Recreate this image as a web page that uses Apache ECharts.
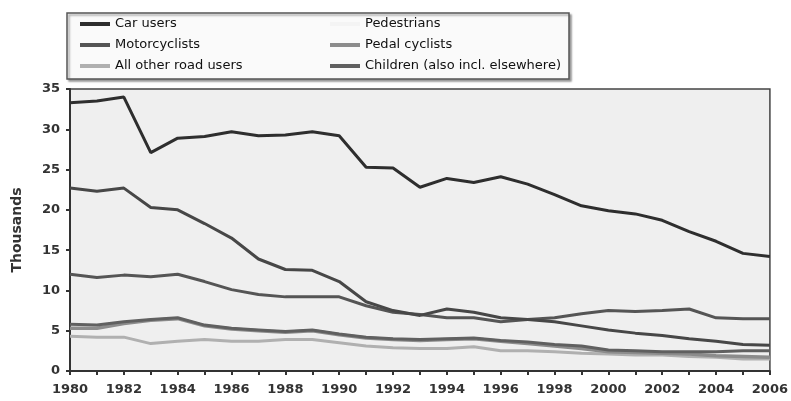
<!DOCTYPE html>
<html>
<head>
<meta charset="utf-8">
<script src="https://cdn.jsdelivr.net/npm/echarts@6/dist/echarts.min.js"></script>
<style>
  html, body { margin: 0; padding: 0; background: #fff; }
  #chart { width: 791px; height: 401px; }
</style>
</head>
<body>
<div id="chart"></div>
<script>
const years = [];
for (let y = 1980; y <= 2006; y++) years.push(String(y));

// thousands of road deaths
const carUsers = [33.3, 33.5, 34.0, 27.1, 28.9, 29.1, 29.7, 29.2, 29.3, 29.7, 29.2, 25.3, 25.2, 22.8, 23.9, 23.4, 24.1, 23.2, 21.9, 20.5, 19.9, 19.5, 18.7, 17.3, 16.1, 14.6, 14.2];
const pedestrians = [22.7, 22.3, 22.7, 20.3, 20.0, 18.3, 16.5, 13.9, 12.6, 12.5, 11.1, 8.6, 7.5, 6.9, 7.7, 7.3, 6.6, 6.4, 6.1, 5.6, 5.1, 4.7, 4.4, 4.0, 3.7, 3.3, 3.2];
const motorcyclists = [12.0, 11.6, 11.9, 11.7, 12.0, 11.1, 10.1, 9.5, 9.2, 9.2, 9.2, 8.1, 7.3, 7.0, 6.6, 6.6, 6.1, 6.4, 6.6, 7.1, 7.5, 7.4, 7.5, 7.7, 6.6, 6.5, 6.5];
const pedalCyclists = [5.3, 5.3, 5.9, 6.3, 6.5, 5.6, 5.2, 5.0, 4.8, 5.0, 4.5, 4.1, 3.9, 3.8, 3.9, 4.0, 3.7, 3.4, 3.1, 2.8, 2.4, 2.3, 2.2, 2.1, 1.9, 1.8, 1.7];
const otherUsers = [4.3, 4.2, 4.2, 3.4, 3.7, 3.9, 3.7, 3.7, 3.9, 3.9, 3.5, 3.1, 2.9, 2.8, 2.8, 3.0, 2.5, 2.5, 2.4, 2.2, 2.1, 2.0, 2.0, 1.8, 1.7, 1.5, 1.5];
const children = [5.8, 5.7, 6.1, 6.4, 6.6, 5.7, 5.3, 5.1, 4.9, 5.1, 4.6, 4.2, 4.0, 3.9, 4.0, 4.1, 3.8, 3.6, 3.3, 3.1, 2.6, 2.5, 2.4, 2.4, 2.4, 2.5, 2.5];

const font = 'DejaVu Sans';

let chart = echarts.init(document.getElementById('chart'));

function line(name, data, color, width) {
  return {
    name: name,
    type: 'line',
    data: data,
    symbol: 'none',
    lineStyle: { color: color, width: width },
    itemStyle: { color: color },
    z: 3
  };
}

// one legend per row/column so each sample sits where the picture has it
function legendItem(item, left, centerY) {
  return {
    left: left,
    top: centerY - 8,
    orient: 'horizontal',
    icon: 'rect',
    itemWidth: 30,
    itemHeight: 4,
    padding: 0,
    z: 5,
    textStyle: { fontFamily: font, fontSize: 13, color: '#111', lineHeight: 16 },
    data: [item]
  };
}

let option = {
  animation: false,
  backgroundColor: '#fff',
  graphic: [{
    type: 'rect',
    z: 1,
    shape: { x: 67, y: 13, width: 502, height: 66 },
    style: {
      fill: '#fafafa', stroke: '#555', lineWidth: 1.5,
      shadowColor: 'rgba(0,0,0,0.35)', shadowBlur: 2, shadowOffsetX: 2, shadowOffsetY: 2
    }
  }],
  legend: [
    legendItem('Car users', 80, 24),
    legendItem('Motorcyclists', 80, 45),
    legendItem('All other road users', 80, 66),
    legendItem({ name: 'Pedestrians', itemStyle: { color: '#f4f4f4' } }, 330, 24),
    legendItem('Pedal cyclists', 330, 45),
    legendItem('Children (also incl. elsewhere)', 330, 66)
  ],
  grid: {
    left: 70, right: 20, top: 89, bottom: 30,
    show: true,
    backgroundColor: '#efefef',
    borderColor: '#444',
    borderWidth: 1.5
  },
  xAxis: {
    type: 'category',
    data: years,
    boundaryGap: false,
    axisLine: { lineStyle: { color: '#333', width: 2 } },
    axisTick: { interval: 0, length: 4, lineStyle: { color: '#333', width: 2 } },
    axisLabel: { interval: 1, margin: 12, fontFamily: font, fontSize: 13, fontWeight: 'bold', color: '#333' },
    splitLine: { show: false }
  },
  yAxis: {
    type: 'value',
    min: 0,
    max: 35,
    interval: 5,
    name: 'Thousands',
    nameLocation: 'middle',
    nameGap: 46,
    nameTextStyle: { fontFamily: font, fontSize: 14, fontWeight: 'bold', color: '#333' },
    axisLine: { show: true, lineStyle: { color: '#333', width: 2 } },
    axisTick: { show: true, length: 4, lineStyle: { color: '#333', width: 2 } },
    axisLabel: { margin: 10, fontFamily: font, fontSize: 13, fontWeight: 'bold', color: '#333' },
    splitLine: { show: false }
  },
  series: [
    line('All other road users', otherUsers, '#b0b0b0', 3),
    line('Pedal cyclists', pedalCyclists, '#8c8c8c', 3.5),
    line('Children (also incl. elsewhere)', children, '#606060', 3),
    line('Motorcyclists', motorcyclists, '#555555', 3),
    line('Pedestrians', pedestrians, '#474747', 3),
    line('Car users', carUsers, '#2e2e2e', 3)
  ]
};

chart.setOption(option, true);
</script>
</body>
</html>
